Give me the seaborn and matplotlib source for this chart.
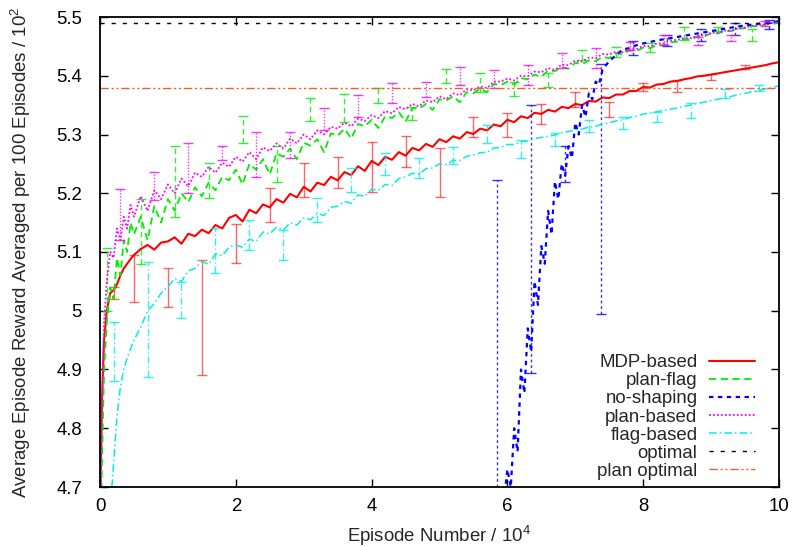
import numpy as np
import pandas as pd
import matplotlib
matplotlib.use("Agg")
import matplotlib.pyplot as plt
import seaborn as sns

# ---- data (episodes in units of 10^4, reward in units of 10^2) ----
episodes = [0.0, 0.03, 0.06, 0.1, 0.15, 0.2, 0.25, 0.3, 0.35, 0.4, 0.45, 0.5,
            0.6, 0.7, 0.8, 0.9, 1.0, 1.1, 1.2, 1.3, 1.4, 1.5, 1.6, 1.7, 1.8, 1.9,
            2.0, 2.1, 2.2, 2.3, 2.4, 2.5, 2.6, 2.7, 2.8, 2.9, 3.0, 3.1, 3.2, 3.3,
            3.4, 3.5, 3.6, 3.7, 3.8, 3.9, 4.0, 4.1, 4.2, 4.3, 4.4, 4.5, 4.6, 4.7,
            4.8, 4.9, 5.0, 5.1, 5.2, 5.3, 5.4, 5.5, 5.6, 5.7, 5.8, 5.9, 6.0, 6.1,
            6.2, 6.3, 6.4, 6.5, 6.6, 6.7, 6.8, 6.9, 7.0, 7.1, 7.2, 7.3, 7.4, 7.5,
            7.6, 7.7, 7.8, 7.9, 8.0, 8.1, 8.2, 8.3, 8.4, 8.5, 8.6, 8.7, 8.8, 8.9,
            9.0, 9.1, 9.2, 9.3, 9.4, 9.5, 9.6, 9.7, 9.8, 9.9, 10.0]

mdp_based = [4.65, 4.85, 4.95, 5.0, 5.03, 5.035, 5.045, 5.06, 5.072, 5.08, 5.088, 5.095,
             5.105, 5.112, 5.104, 5.116, 5.118, 5.125, 5.114, 5.131, 5.127, 5.138, 5.132, 5.146, 5.14, 5.158,
             5.163, 5.152, 5.172, 5.166, 5.181, 5.176, 5.19, 5.184, 5.199, 5.193, 5.211, 5.203, 5.218, 5.214,
             5.228, 5.222, 5.236, 5.231, 5.246, 5.238, 5.255, 5.248, 5.262, 5.257, 5.27, 5.264, 5.277, 5.273,
             5.284, 5.279, 5.292, 5.287, 5.297, 5.293, 5.304, 5.301, 5.31, 5.307, 5.317, 5.314, 5.325, 5.321,
             5.331, 5.328, 5.337, 5.335, 5.342, 5.339, 5.347, 5.345, 5.352, 5.35, 5.357, 5.356, 5.363, 5.362,
             5.368, 5.368, 5.374, 5.374, 5.381, 5.38, 5.385, 5.386, 5.39, 5.391, 5.394, 5.396, 5.399, 5.4,
             5.402, 5.404, 5.406, 5.408, 5.41, 5.412, 5.414, 5.416, 5.418, 5.421, 5.423]

plan_flag = [4.55, 4.75, 4.9, 4.98, 5.04, 5.02, 5.09, 5.06, 5.12, 5.1, 5.15, 5.13,
             5.16, 5.12, 5.178, 5.15, 5.19, 5.17, 5.2, 5.185, 5.21, 5.195, 5.218, 5.205, 5.228, 5.222,
             5.24, 5.215, 5.25, 5.24, 5.258, 5.232, 5.268, 5.262, 5.276, 5.258, 5.286, 5.281, 5.292, 5.27,
             5.302, 5.298, 5.31, 5.293, 5.318, 5.314, 5.325, 5.311, 5.331, 5.328, 5.338, 5.322, 5.345, 5.344,
             5.352, 5.342, 5.36, 5.358, 5.365, 5.355, 5.372, 5.37, 5.378, 5.372, 5.386, 5.384, 5.39, 5.385,
             5.396, 5.394, 5.402, 5.398, 5.409, 5.408, 5.415, 5.412, 5.422, 5.42, 5.426, 5.425, 5.432, 5.43,
             5.438, 5.437, 5.443, 5.442, 5.448, 5.447, 5.452, 5.452, 5.457, 5.458, 5.462, 5.462, 5.467, 5.467,
             5.472, 5.472, 5.476, 5.476, 5.48, 5.481, 5.484, 5.485, 5.487, 5.488, 5.49]

plan_based = [4.6, 4.85, 4.98, 5.05, 5.1, 5.09, 5.14, 5.12, 5.16, 5.14, 5.18, 5.16,
              5.195, 5.17, 5.205, 5.19, 5.215, 5.2, 5.225, 5.212, 5.235, 5.228, 5.245, 5.235, 5.252, 5.245,
              5.262, 5.254, 5.27, 5.258, 5.278, 5.272, 5.285, 5.276, 5.293, 5.285, 5.3, 5.292, 5.307, 5.3,
              5.313, 5.31, 5.32, 5.314, 5.327, 5.323, 5.333, 5.328, 5.34, 5.336, 5.347, 5.343, 5.352, 5.348,
              5.358, 5.355, 5.365, 5.36, 5.37, 5.367, 5.377, 5.375, 5.382, 5.379, 5.39, 5.39, 5.395, 5.392,
              5.4, 5.399, 5.407, 5.406, 5.413, 5.41, 5.419, 5.418, 5.426, 5.424, 5.431, 5.43, 5.437, 5.436,
              5.441, 5.44, 5.446, 5.445, 5.451, 5.45, 5.455, 5.455, 5.46, 5.461, 5.464, 5.464, 5.468, 5.469,
              5.473, 5.473, 5.477, 5.477, 5.481, 5.482, 5.485, 5.486, 5.488, 5.49, 5.492]

flag_based = [4.2, 4.3, 4.4, 4.55, 4.66, 4.74, 4.82, 4.87, 4.9, 4.92, 4.935, 4.95,
              4.972, 5.0, 5.012, 5.03, 5.041, 5.055, 5.05, 5.068, 5.072, 5.084, 5.079, 5.097, 5.094, 5.108,
              5.112, 5.108, 5.122, 5.118, 5.134, 5.131, 5.142, 5.137, 5.15, 5.146, 5.158, 5.155, 5.166, 5.162,
              5.176, 5.178, 5.186, 5.183, 5.197, 5.195, 5.207, 5.205, 5.215, 5.213, 5.225, 5.228, 5.234, 5.232,
              5.242, 5.243, 5.25, 5.249, 5.256, 5.256, 5.263, 5.265, 5.269, 5.27, 5.277, 5.278, 5.283, 5.283,
              5.288, 5.289, 5.293, 5.295, 5.297, 5.299, 5.303, 5.305, 5.308, 5.309, 5.313, 5.314, 5.318, 5.32,
              5.323, 5.325, 5.329, 5.331, 5.335, 5.336, 5.339, 5.341, 5.343, 5.345, 5.348, 5.35, 5.353, 5.355,
              5.358, 5.36, 5.363, 5.365, 5.368, 5.37, 5.373, 5.375, 5.378, 5.38, 5.383]

no_shaping_x = [5.9, 5.95, 6.0, 6.05, 6.1, 6.15, 6.2, 6.25, 6.3, 6.35, 6.4, 6.45, 6.5, 6.55,
                6.6, 6.65, 6.7, 6.75, 6.8, 6.85, 6.9, 6.95, 7.0, 7.05, 7.1, 7.15, 7.2, 7.25,
                7.3, 7.35, 7.4, 7.5, 7.6, 7.7, 7.8, 7.9, 8.0, 8.2, 8.4, 8.6, 8.8, 9.0, 9.2,
                9.4, 9.6, 9.8, 10.0]
no_shaping = [4.60, 4.68, 4.73, 4.70, 4.80, 4.76, 4.90, 4.86, 4.97, 4.93, 5.05, 5.01, 5.11, 5.08,
              5.17, 5.13, 5.22, 5.19, 5.25, 5.23, 5.28, 5.26, 5.32, 5.30, 5.35, 5.33, 5.37, 5.36,
              5.39, 5.385, 5.41, 5.425, 5.435, 5.445, 5.447, 5.452, 5.455, 5.46, 5.464, 5.468, 5.472,
              5.476, 5.48, 5.484, 5.487, 5.49, 5.493]

# error-bar ranges (low, high) sampled every 5000 episodes
mdp_err_x = [0.2, 0.5, 1.0, 1.5, 2.0, 2.5, 3.0, 3.5, 4.0, 4.5, 5.0, 5.5, 6.0, 6.5, 7.0, 7.5, 8.0, 8.5, 9.0, 9.5]
mdp_err_lo = [5.02, 5.015, 5.006, 4.89, 5.082, 5.151, 5.194, 5.209, 5.202, 5.245, 5.194, 5.296, 5.296, 5.318, 5.347, 5.33, 5.374, 5.372, 5.392, 5.411]
mdp_err_hi = [5.04, 5.095, 5.073, 5.086, 5.148, 5.209, 5.251, 5.262, 5.287, 5.297, 5.277, 5.33, 5.337, 5.352, 5.372, 5.355, 5.388, 5.392, 5.403, 5.418]

flag_err_x = [0.2, 0.7, 1.2, 1.7, 2.2, 2.7, 3.2, 3.7, 4.2, 4.7, 5.2, 5.7, 6.2, 6.7, 7.2, 7.7, 8.2, 8.7, 9.2, 9.7]
flag_err_lo = [4.88, 4.887, 4.988, 5.065, 5.103, 5.086, 5.151, 5.202, 5.231, 5.226, 5.25, 5.286, 5.26, 5.28, 5.304, 5.309, 5.321, 5.328, 5.362, 5.374]
flag_err_hi = [4.98, 5.083, 5.049, 5.141, 5.154, 5.137, 5.192, 5.243, 5.268, 5.26, 5.279, 5.316, 5.29, 5.302, 5.325, 5.33, 5.338, 5.353, 5.377, 5.384]

pflag_err_x = [0.1, 0.6, 1.1, 1.6, 2.1, 2.6, 3.1, 3.6, 4.1, 4.6, 5.1, 5.6, 6.1, 6.6, 7.1, 7.6, 8.1, 8.6, 9.1, 9.6]
pflag_err_lo = [5.0, 5.08, 5.16, 5.192, 5.286, 5.22, 5.323, 5.321, 5.353, 5.325, 5.387, 5.373, 5.365, 5.381, 5.427, 5.432, 5.44, 5.461, 5.476, 5.459]
pflag_err_hi = [5.107, 5.19, 5.28, 5.252, 5.331, 5.28, 5.362, 5.369, 5.379, 5.347, 5.411, 5.405, 5.389, 5.405, 5.444, 5.449, 5.455, 5.483, 5.483, 5.48]

plan_err_x = [0.3, 0.8, 1.3, 1.8, 2.3, 2.8, 3.3, 3.8, 4.3, 4.8, 5.3, 5.8, 6.3, 6.8, 7.3, 7.8, 8.3, 8.8, 9.3, 9.8]
plan_err_lo = [5.12, 5.188, 5.2, 5.257, 5.228, 5.26, 5.308, 5.33, 5.353, 5.364, 5.384, 5.379, 5.384, 5.413, 5.413, 5.443, 5.452, 5.452, 5.459, 5.484]
plan_err_hi = [5.208, 5.236, 5.285, 5.28, 5.305, 5.305, 5.345, 5.367, 5.387, 5.389, 5.415, 5.41, 5.418, 5.438, 5.447, 5.457, 5.469, 5.466, 5.469, 5.494]

none_err_x = [5.85, 6.35, 6.85, 7.38, 7.85, 8.35, 8.85, 9.35, 9.85]
none_err_lo = [4.5, 4.894, 5.22, 4.994, 5.435, 5.45, 5.46, 5.47, 5.48]
none_err_hi = [5.222, 5.35, 5.28, 5.42, 5.46, 5.47, 5.48, 5.49, 5.495]

optimal = 5.49
plan_optimal = 5.38

x_ticks = [0, 2, 4, 6, 8, 10]
y_ticks = [4.7, 4.8, 4.9, 5.0, 5.1, 5.2, 5.3, 5.4, 5.5]
y_tick_labels = ["4.7", "4.8", "4.9", "5", "5.1", "5.2", "5.3", "5.4", "5.5"]

# ---- styling ----
sns.set_style("ticks")
plt.rcParams["font.family"] = ["Liberation Sans", "DejaVu Sans"]
plt.rcParams["mathtext.fontset"] = "custom"
plt.rcParams["mathtext.rm"] = "Liberation Sans"
plt.rcParams["mathtext.it"] = "Liberation Sans"
FS = 13.4

RED, GREEN, BLUE, MAGENTA, CYAN = "#ff0000", "#00ee00", "#0000ff", "#ff00ff", "#00eeee"
ORANGE = "#f0602a"

fig = plt.figure(figsize=(7.93, 5.47), dpi=100)
ax = fig.add_axes([100 / 793, 1 - 487 / 547, 679 / 793, 470 / 547])

df = pd.DataFrame({"episode": episodes, "mdp": mdp_based, "pflag": plan_flag,
                   "plan": plan_based, "flag": flag_based})
df_none = pd.DataFrame({"episode": no_shaping_x, "none": no_shaping})

STYLE = {
    "mdp": dict(color=RED, ls="-", lw=1.5),
    "pflag": dict(color=GREEN, ls=(0, (4, 2.5)), lw=1.3),
    "none": dict(color=BLUE, ls=(0, (2, 2)), lw=1.6),
    "plan": dict(color=MAGENTA, ls=(0, (1, 1.2)), lw=1.3),
    "flag": dict(color=CYAN, ls=(0, (5, 2, 1, 2)), lw=1.1),
}


def draw_bars(x, lo, hi, key, alpha=0.8):
    st = STYLE[key]
    mid = [(a + b) / 2 for a, b in zip(lo, hi)]
    err = [[m - a for m, a in zip(mid, lo)], [b - m for m, b in zip(mid, hi)]]
    cont = ax.errorbar(x, mid, yerr=err, fmt="none", ecolor=st["color"],
                       elinewidth=1.0, capsize=3.6, capthick=1.0, alpha=alpha,
                       label="_nolegend_")
    for col in cont[2]:
        col.set_linestyle(st["ls"] if key != "mdp" else "-")


def draw_line(frame, col, label):
    st = STYLE[col]
    sns.lineplot(data=frame, x="episode", y=col, ax=ax, label=label,
                 color=st["color"], linestyle=st["ls"], linewidth=st["lw"],
                 estimator=None, sort=False)


draw_line(df, "mdp", "MDP-based")
draw_bars(mdp_err_x, mdp_err_lo, mdp_err_hi, "mdp", alpha=0.6)

draw_line(df, "pflag", "plan-flag")
draw_bars(pflag_err_x, pflag_err_lo, pflag_err_hi, "pflag")

draw_line(df_none, "none", "no-shaping")
draw_bars(none_err_x, none_err_lo, none_err_hi, "none")

draw_line(df, "plan", "plan-based")
draw_bars(plan_err_x, plan_err_lo, plan_err_hi, "plan")

draw_line(df, "flag", "flag-based")
draw_bars(flag_err_x, flag_err_lo, flag_err_hi, "flag")

ax.axhline(optimal, color="black", ls=(0, (3, 5)), lw=1.0, label="optimal")
ax.axhline(plan_optimal, color=ORANGE, ls=(0, (6, 2, 1.5, 2, 1.5, 2)), lw=1.0,
           label="plan optimal")

# ---- axes ----
ax.set_xlim(0, 10)
ax.set_ylim(4.7, 5.5)
ax.set_xticks(x_ticks)
ax.set_xticklabels([str(t) for t in x_ticks])
ax.set_yticks(y_ticks)
ax.set_yticklabels(y_tick_labels)
ax.tick_params(direction="in", top=True, right=True, length=6, width=1.0,
               labelsize=FS, colors="black")
ax.tick_params(axis="x", pad=8)
ax.tick_params(axis="y", pad=13)
for sp in ax.spines.values():
    sp.set_visible(True)
    sp.set_linewidth(1.3)
    sp.set_color("black")

ax.set_xlabel(r"Episode Number / $\mathregular{10^4}$", fontsize=FS)
ax.set_ylabel(r"Average Episode Reward Averaged per 100 Episodes / $\mathregular{10^2}$",
              fontsize=FS)
ax.xaxis.set_label_coords(0.5, -0.079)
ax.yaxis.set_label_coords(-0.098, 0.5)

leg = ax.legend(loc="lower right", bbox_to_anchor=(0.965, 0.015), frameon=False,
                markerfirst=False, fontsize=FS, handlelength=2.5,
                handletextpad=0.6, labelspacing=0.06, borderpad=0, borderaxespad=0)

fig.savefig("out.png", dpi=100)
